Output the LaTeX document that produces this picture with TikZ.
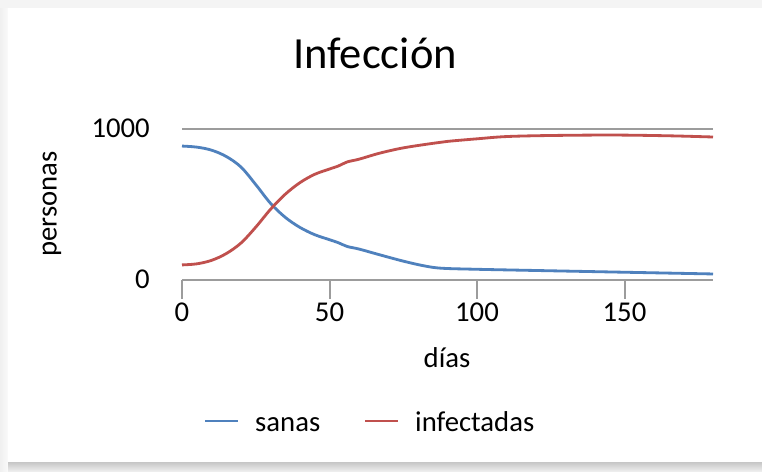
\documentclass[tikz,border=0pt]{standalone}
\usepackage{fontspec}
\setmainfont{Carlito}
\definecolor{sanasblue}{HTML}{4F81BD}
\definecolor{infred}{HTML}{C0504D}
\definecolor{axisgray}{HTML}{9C9C9C}
\tikzset{
  lbl/.style={font=\fontsize{24.5}{28}\selectfont, inner sep=0pt},
  serie/.style={line width=2.4pt, line join=round},
  gridln/.style={axisgray, line width=1.7pt}
}
\begin{document}
\begin{tikzpicture}[x=0.03cm,y=-0.03cm]
  \useasboundingbox (0,0) rectangle (762,471);
  % frame and shadow
  \fill[gray!9] (0,0) rectangle (762,471);
  \shade[left color=gray!12, right color=gray!4] (0,8) rectangle (8,471);
  \shade[top color=gray!45, bottom color=gray!14] (8,462) rectangle (762,471);
  \fill[white] (8,8) rectangle (762,462);
  % texts
  \node[lbl, font=\fontsize{38}{44}\selectfont, anchor=base] (title) at (375,68) {Infección};
  \node[lbl, rotate=90] (ylab) at (52,204) {personas};
  \node[lbl, anchor=base east] (y1000) at (150,137) {1000};
  \node[lbl, anchor=base east] (y0) at (150,288) {0};
  \node[lbl, anchor=base] (xlab) at (447,367) {días};
  \begin{scope}[shift={(182,280)}, xscale=2.95, yscale=-0.151]
    \draw[gridln] (0,1000) -- (180,1000);
    \draw[gridln] (0,0) coordinate (o) -- (180,0) coordinate (xend);
    \foreach \d in {0,50,100,150} {
      \draw[gridln] (\d,0) -- (\d,-125);
      \node[lbl, anchor=base] (t\d) at (\d,-278) {\d};
    }
    \draw[serie, sanasblue] plot[smooth, tension=0.55] coordinates {
      (0,887) (5,880) (10,860) (15,818) (20,748) (25,632) (30,508)
      (35,415) (40,348) (45,300) (50,267) (53,247) (56,222) (60,205)
      (67,167) (75,125) (82,94) (88,78) (100,71) (120,63) (146,53)
      (180,40)};
    \draw[serie, infred] plot[smooth, tension=0.55] coordinates {
      (0,100) (5,107) (10,130) (15,175) (20,245) (25,350) (30,468)
      (35,568) (40,645) (45,700) (50,735) (53,755) (56,782) (60,800)
      (67,840) (75,875) (85,905) (90,918) (100,935) (110,950)
      (125,957) (146,960) (165,955) (180,947)};
  \end{scope}
  % legend
  \coordinate (lsa) at (205,421);
  \coordinate (lsb) at (238,421);
  \coordinate (lia) at (365,421);
  \coordinate (lib) at (398,421);
  \draw[serie, sanasblue] (lsa) -- (lsb);
  \draw[serie, infred] (lia) -- (lib);
  \node[lbl, anchor=base west] (lsanas) at (255,431) {sanas};
  \node[lbl, anchor=base west] (linf) at (415,431) {infectadas};
\end{tikzpicture}
\end{document}
